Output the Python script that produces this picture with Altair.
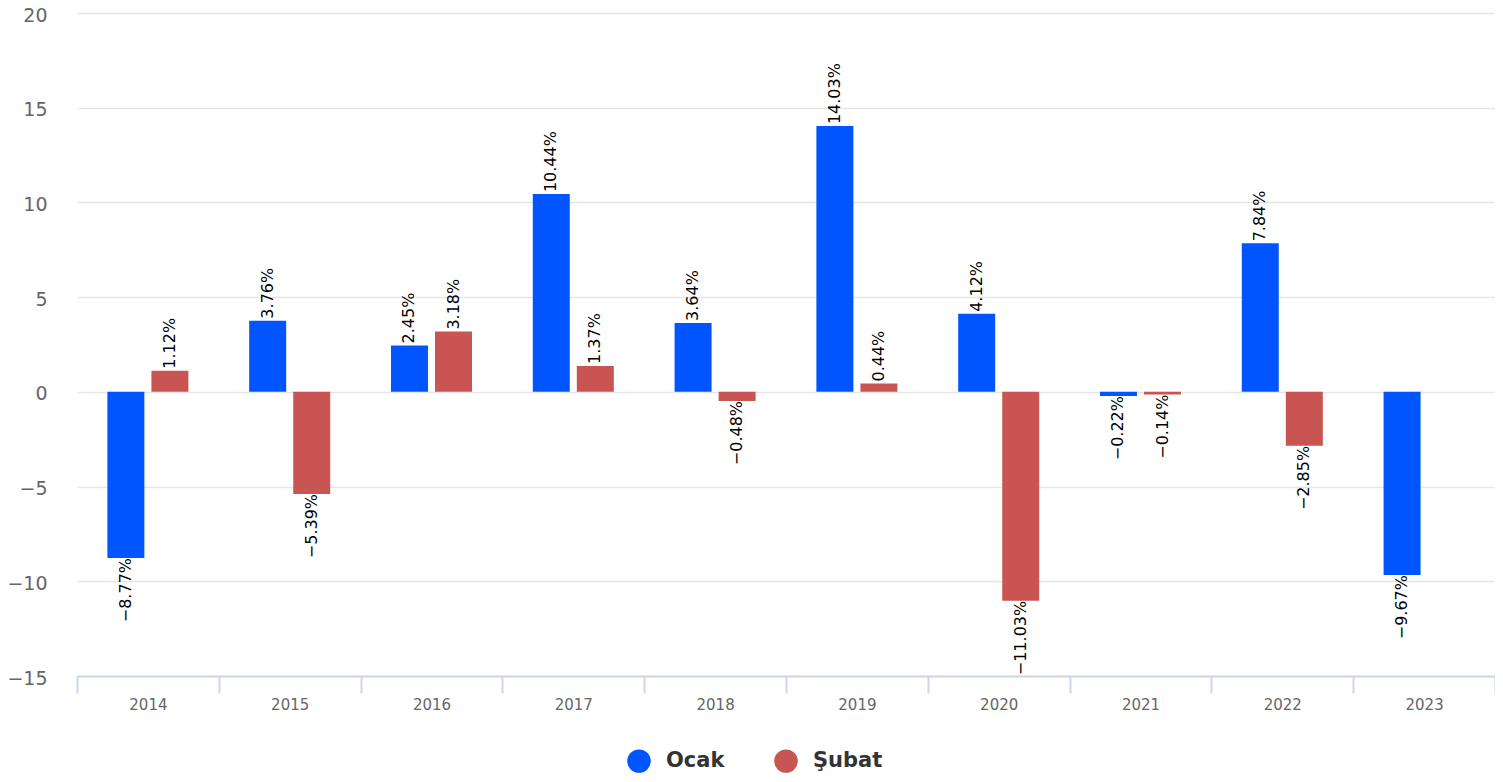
import altair as alt
import pandas as pd

years = ["2014", "2015", "2016", "2017", "2018", "2019", "2020", "2021", "2022", "2023"]
ocak = [-8.77, 3.76, 2.45, 10.44, 3.64, 14.03, 4.12, -0.22, 7.84, -9.67]
subat = [1.12, -5.39, 3.18, 1.37, -0.48, 0.44, -11.03, -0.14, -2.85, None]
series = ["Ocak", "Şubat"]
colors = ["#0055ff", "#c95552"]
y_ticks = [-15, -10, -5, 0, 5, 10, 15, 20]

rows = []
for i, yr in enumerate(years):
    for s, vals in zip(series, [ocak, subat]):
        v = vals[i]
        if v is not None:
            rows.append({"year": yr, "series": s, "value": v})
df = pd.DataFrame(rows)

FONT = "DejaVu Sans"

x_enc = alt.X(
    "year:N",
    sort=years,
    scale=alt.Scale(paddingInner=0, paddingOuter=0),
    axis=alt.Axis(
        title=None,
        labelAngle=0,
        tickBand="extent",
        grid=False,
        domainColor="#ccd6eb",
        domainWidth=2,
        tickColor="#ccd6eb",
        tickWidth=2,
        tickSize=17,
        labelFontSize=15,
        labelColor="#666666",
        labelPadding=4,
        labelFont=FONT,
    ),
)
xo_enc = alt.XOffset(
    "series:N",
    scale=alt.Scale(domain=series, paddingInner=0.16, paddingOuter=0.69),
)
y_enc = alt.Y(
    "value:Q",
    scale=alt.Scale(domain=[-15, 20], nice=False, zero=False),
    axis=alt.Axis(
        title=None,
        values=y_ticks,
        grid=True,
        gridColor="#e6e6e6",
        gridWidth=1.5,
        domain=False,
        ticks=False,
        labelFontSize=19,
        labelColor="#666666",
        labelPadding=30,
        labelOffset=2,
        labelFont=FONT,
    ),
)
color_enc = alt.Color(
    "series:N",
    scale=alt.Scale(domain=series, range=colors),
    legend=alt.Legend(
        title=None,
        orient="none",
        legendX=550,
        legendY=736,
        direction="horizontal",
        symbolType="circle",
        symbolSize=552,
        symbolStrokeWidth=0,
        symbolOpacity=1,
        labelFontSize=21,
        labelFontWeight="bold",
        labelColor="#333333",
        labelFont=FONT,
        labelOffset=15,
        columnPadding=49,
        padding=0,
    ),
)

base = alt.Chart(df).transform_calculate(
    label="format(datum.value, '.2f') + '%'"
)

bars = base.mark_bar().encode(x=x_enc, xOffset=xo_enc, y=y_enc, color=color_enc)

pos_labels = base.transform_filter("datum.value >= 0").mark_text(
    angle=270, align="left", baseline="middle", dx=2, fontSize=16,
    color="#000000", font=FONT
).encode(x=x_enc, xOffset=xo_enc, y=y_enc, text="label:N")

neg_labels = base.transform_filter("datum.value < 0").mark_text(
    angle=270, align="right", baseline="middle", dx=0, fontSize=16,
    color="#000000", font=FONT
).encode(x=x_enc, xOffset=xo_enc, y=y_enc, text="label:N")

chart = (
    alt.layer(bars, pos_labels, neg_labels)
    .properties(
        width=1418,
        height=663,
        padding={"left": 69, "top": 5, "right": 0, "bottom": 98},
        autosize=alt.AutoSizeParams(type="none"),
    )
    .configure(font=FONT)
    .configure_view(stroke=None)
)

chart.save("out.html", embed_options={"renderer": "svg", "actions": False})
